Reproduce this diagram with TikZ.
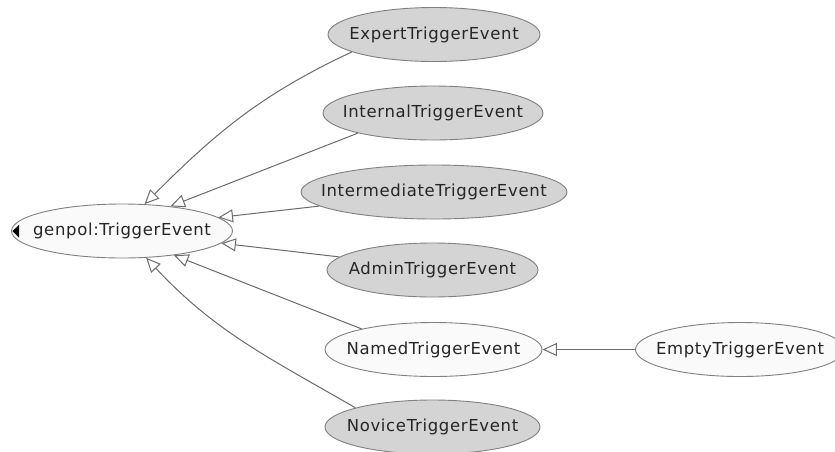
\documentclass[tikz,border=0pt]{standalone}
\usepackage{fontspec}
\setmainfont{DejaVu Sans}[LetterSpace=4]
\usetikzlibrary{arrows.meta,shapes.geometric}
\begin{document}
\begin{tikzpicture}[x=1pt,y=-1pt,
  cls/.style={ellipse, draw=black!50, line width=0.9pt, inner xsep=-60pt, inner ysep=-15pt, minimum height=54pt, font=\fontsize{16.5}{18}\selectfont, text=black!85},
  grey/.style={cls, fill=black!17},
  white/.style={cls, fill=black!2},
  isa/.style={draw=black!58, line width=1pt, -{Triangle[open, length=14.5pt, width=13pt, fill=white]}}
]
\useasboundingbox (0,0) rectangle (835,451);
\node[white, minimum width=221pt] (gen) at (122,231) {genpol:TriggerEvent};
\node[grey, minimum width=212pt] (expert) at (434,34.5) {ExpertTriggerEvent};
\node[grey, minimum width=220pt] (internal) at (433,113) {InternalTriggerEvent};
\node[grey, minimum width=266pt] (inter) at (434,192) {IntermediateTriggerEvent};
\node[grey, minimum width=211pt] (admin) at (432.5,270) {AdminTriggerEvent};
\node[white, minimum width=217pt] (named) at (433.5,349.5) {NamedTriggerEvent};
\node[grey, minimum width=215pt] (novice) at (432.5,427) {NoviceTriggerEvent};
\node[white, minimum width=209pt] (empty) at (740,349.5) {EmptyTriggerEvent};
\fill[black] (19,225) -- (12.5,231) -- (19,237.5) -- cycle;
\draw[isa] (expert.192) to[out=205,in=45] (gen.50);
\draw[isa] (internal.195) -- (gen.27);
\draw[isa] (inter.187) -- (gen.8);
\draw[isa] (admin.172) -- (gen.-7);
\draw[isa] (named.164) -- (gen.-25);
\draw[isa] (novice.166) to[out=150,in=313] (gen.-48);
\draw[isa] (empty) -- (named);
\end{tikzpicture}
\end{document}
